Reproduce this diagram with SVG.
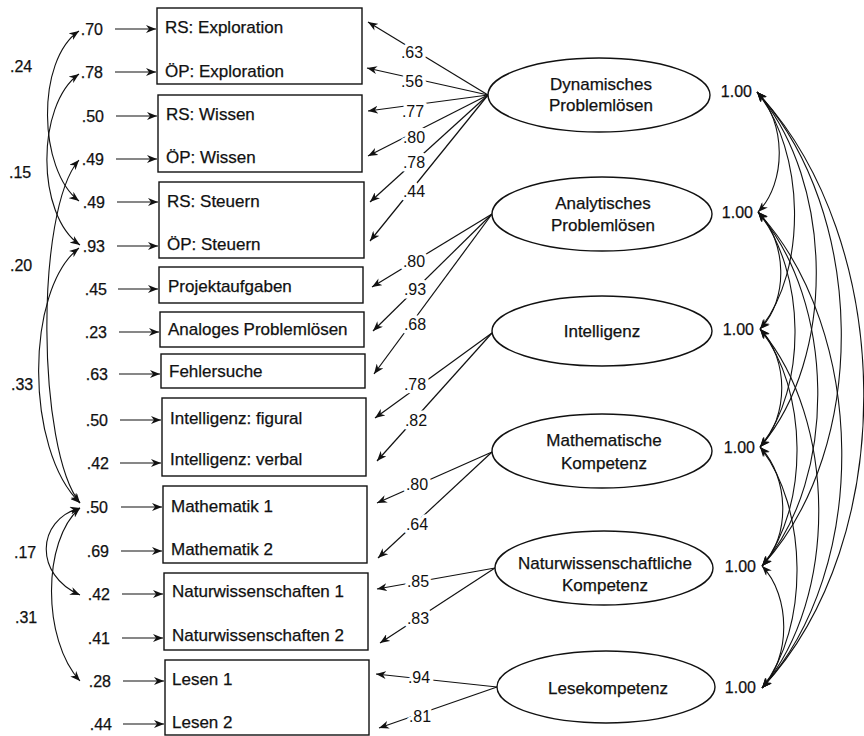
<svg xmlns="http://www.w3.org/2000/svg" width="864" height="736" viewBox="0 0 864 736">
<defs>
<marker id="ah" viewBox="0 0 10 8" refX="10" refY="4" markerWidth="10" markerHeight="8" markerUnits="userSpaceOnUse" orient="auto-start-reverse"><path d="M0,0 L10,4 L0,8 L3,4 z" fill="#111"/></marker>
</defs>
<style>
.box{fill:#fff;stroke:#111;stroke-width:1.4}
.lat{fill:#fff;stroke:#111;stroke-width:1.4}
.con{fill:none;stroke:#111;stroke-width:1.2;marker-end:url(#ah)}
.cov{fill:none;stroke:#111;stroke-width:1.1;marker-start:url(#ah);marker-end:url(#ah)}
.t{font-family:"Liberation Sans",Arial,sans-serif;font-size:17px;fill:#111;stroke:#111;stroke-width:0.25}
.n{font-family:"Liberation Sans",Arial,sans-serif;font-size:16px;fill:#111;stroke:#111;stroke-width:0.25}
.lt{font-family:"Liberation Sans",Arial,sans-serif;font-size:17px;fill:#111;text-anchor:middle;stroke:#111;stroke-width:0.25}
.ld{font-family:"Liberation Sans",Arial,sans-serif;font-size:16px;fill:#111;text-anchor:middle;stroke:#fff;stroke-width:7;paint-order:stroke;stroke-linejoin:round}
.e{text-anchor:end}
</style>
<rect width="864" height="736" fill="#fff"/>

<g id="connectors">
<line class="con" x1="115" y1="29" x2="156" y2="29"/>
<line class="con" x1="115" y1="72" x2="156" y2="72"/>
<line class="con" x1="116" y1="116" x2="157" y2="116"/>
<line class="con" x1="116" y1="159" x2="157" y2="159"/>
<line class="con" x1="117" y1="202" x2="158" y2="202"/>
<line class="con" x1="117" y1="246" x2="158" y2="246"/>
<line class="con" x1="118" y1="289" x2="158" y2="289"/>
<line class="con" x1="119" y1="332" x2="159" y2="332"/>
<line class="con" x1="119" y1="374" x2="160" y2="374"/>
<line class="con" x1="120" y1="420" x2="161" y2="420"/>
<line class="con" x1="120" y1="463" x2="161" y2="463"/>
<line class="con" x1="121" y1="507" x2="162" y2="507"/>
<line class="con" x1="121" y1="551" x2="162" y2="551"/>
<line class="con" x1="122" y1="594" x2="163" y2="594"/>
<line class="con" x1="122" y1="638" x2="163" y2="638"/>
<line class="con" x1="123" y1="681" x2="164" y2="681"/>
<line class="con" x1="123" y1="724" x2="164" y2="724"/>
<path class="cov" d="M79,31 C36,60 38,170 79,201"/>
<path class="cov" d="M79,74 C36,105 36,215 80,245"/>
<path class="cov" d="M79,160 C35,210 37,450 80,503"/>
<path class="cov" d="M79,248 C25,290 25,450 80,503"/>
<path class="cov" d="M80,508 C36,520 34,575 80,595"/>
<path class="cov" d="M80,508 C42,540 42,640 80,681"/>
<line class="con" x1="488" y1="95" x2="368" y2="22"/>
<line class="con" x1="488" y1="95" x2="367" y2="68"/>
<line class="con" x1="488" y1="95" x2="368" y2="111"/>
<line class="con" x1="488" y1="95" x2="368" y2="156"/>
<line class="con" x1="488" y1="95" x2="370" y2="202"/>
<line class="con" x1="488" y1="95" x2="370" y2="241"/>
<line class="con" x1="492" y1="214" x2="372" y2="287"/>
<line class="con" x1="492" y1="214" x2="373" y2="331"/>
<line class="con" x1="492" y1="214" x2="374" y2="374"/>
<line class="con" x1="492" y1="333" x2="375" y2="418"/>
<line class="con" x1="492" y1="333" x2="377" y2="461"/>
<line class="con" x1="492" y1="452" x2="377" y2="503"/>
<line class="con" x1="492" y1="452" x2="378" y2="558"/>
<line class="con" x1="495" y1="568" x2="377" y2="589"/>
<line class="con" x1="495" y1="568" x2="380" y2="643"/>
<line class="con" x1="497" y1="687" x2="376" y2="674"/>
<line class="con" x1="497" y1="687" x2="379" y2="728"/>
<path class="cov" d="M757,92 C786,122 787,182 758,212"/>
<path class="cov" d="M757,92 C805,151 808,270 760,329"/>
<path class="cov" d="M757,92 C834,181 837,358 760,447"/>
<path class="cov" d="M757,92 C866,211 871,447 762,566"/>
<path class="cov" d="M757,92 C896,241 901,539 762,688"/>
<path class="cov" d="M758,212 C787,241 789,300 760,329"/>
<path class="cov" d="M758,212 C806,271 808,388 760,447"/>
<path class="cov" d="M758,212 C835,301 839,477 762,566"/>
<path class="cov" d="M758,212 C867,331 871,569 762,688"/>
<path class="cov" d="M760,329 C789,359 789,417 760,447"/>
<path class="cov" d="M760,329 C808,388 810,507 762,566"/>
<path class="cov" d="M760,329 C837,419 839,598 762,688"/>
<path class="cov" d="M760,447 C789,477 791,536 762,566"/>
<path class="cov" d="M760,447 C808,507 810,628 762,688"/>
<path class="cov" d="M762,566 C791,596 791,658 762,688"/>
</g>

<g id="loading-labels">
<text class="ld" x="412" y="58">.63</text>
<text class="ld" x="412" y="87">.56</text>
<text class="ld" x="413" y="117">.77</text>
<text class="ld" x="414" y="143">.80</text>
<text class="ld" x="414" y="168">.78</text>
<text class="ld" x="414" y="197">.44</text>
<text class="ld" x="414" y="267">.80</text>
<text class="ld" x="415" y="295">.93</text>
<text class="ld" x="415" y="330">.68</text>
<text class="ld" x="415" y="390">.78</text>
<text class="ld" x="416" y="426">.82</text>
<text class="ld" x="417" y="490">.80</text>
<text class="ld" x="417" y="530">.64</text>
<text class="ld" x="418" y="587">.85</text>
<text class="ld" x="418" y="624">.83</text>
<text class="ld" x="419" y="683">.94</text>
<text class="ld" x="420" y="722">.81</text>
</g>

<g id="cov-labels">
<text class="n" x="10" y="72">.24</text>
<text class="n" x="9" y="178">.15</text>
<text class="n" x="10" y="271">.20</text>
<text class="n" x="11" y="390">.33</text>
<text class="n" x="14" y="558">.17</text>
<text class="n" x="15" y="623">.31</text>
</g>

<g id="error-labels">
<text class="n e" x="103" y="35">.70</text>
<text class="n e" x="103" y="78">.78</text>
<text class="n e" x="104" y="122">.50</text>
<text class="n e" x="104" y="165">.49</text>
<text class="n e" x="105" y="208">.49</text>
<text class="n e" x="105" y="252">.93</text>
<text class="n e" x="107" y="295">.45</text>
<text class="n e" x="107" y="338">.23</text>
<text class="n e" x="108" y="380">.63</text>
<text class="n e" x="108" y="426">.50</text>
<text class="n e" x="109" y="469">.42</text>
<text class="n e" x="108" y="513">.50</text>
<text class="n e" x="109" y="557">.69</text>
<text class="n e" x="110" y="600">.42</text>
<text class="n e" x="110" y="644">.41</text>
<text class="n e" x="111" y="687">.28</text>
<text class="n e" x="112" y="730">.44</text>
</g>

<g id="box-exploration">
<rect class="box" x="157" y="8" width="205" height="76"/>
<text class="t" x="165" y="33">RS: Exploration</text>
<text class="t" x="165" y="77">ÖP: Exploration</text>
</g>
<g id="box-wissen">
<rect class="box" x="158" y="95" width="204" height="77"/>
<text class="t" x="166" y="120">RS: Wissen</text>
<text class="t" x="166" y="163">ÖP: Wissen</text>
</g>
<g id="box-steuern">
<rect class="box" x="159" y="182" width="205" height="76"/>
<text class="t" x="167" y="207">RS: Steuern</text>
<text class="t" x="167" y="250">ÖP: Steuern</text>
</g>
<g id="box-projekt">
<rect class="box" x="159" y="267" width="204" height="36"/>
<text class="t" x="168" y="292">Projektaufgaben</text>
</g>
<g id="box-analoges">
<rect class="box" x="160" y="312" width="204" height="35"/>
<text class="t" x="168" y="335">Analoges Problemlösen</text>
</g>
<g id="box-fehler">
<rect class="box" x="161" y="354" width="204" height="34"/>
<text class="t" x="169" y="377">Fehlersuche</text>
</g>
<g id="box-intelligenz">
<rect class="box" x="162" y="398" width="204" height="78"/>
<text class="t" x="170" y="424">Intelligenz: figural</text>
<text class="t" x="170" y="465">Intelligenz: verbal</text>
</g>
<g id="box-mathematik">
<rect class="box" x="163" y="486" width="204" height="77"/>
<text class="t" x="171" y="512">Mathematik 1</text>
<text class="t" x="171" y="555">Mathematik 2</text>
</g>
<g id="box-natur">
<rect class="box" x="164" y="573" width="204" height="77"/>
<text class="t" x="172" y="597">Naturwissenschaften 1</text>
<text class="t" x="172" y="641">Naturwissenschaften 2</text>
</g>
<g id="box-lesen">
<rect class="box" x="165" y="660" width="204" height="75"/>
<text class="t" x="172" y="685">Lesen 1</text>
<text class="t" x="172" y="728">Lesen 2</text>
</g>

<g id="lat-dyn">
<ellipse class="lat" cx="599" cy="95" rx="111" ry="37"/>
<text class="lt" x="601" y="90">Dynamisches</text>
<text class="lt" x="601" y="111">Problemlösen</text>
</g>
<g id="lat-ana">
<ellipse class="lat" cx="602" cy="214" rx="110" ry="37"/>
<text class="lt" x="603" y="209">Analytisches</text>
<text class="lt" x="603" y="231">Problemlösen</text>
</g>
<g id="lat-int">
<ellipse class="lat" cx="602" cy="331" rx="110" ry="35"/>
<text class="lt" x="602" y="337">Intelligenz</text>
</g>
<g id="lat-mat">
<ellipse class="lat" cx="602" cy="451" rx="110" ry="37"/>
<text class="lt" x="604" y="446">Mathematische</text>
<text class="lt" x="604" y="469">Kompetenz</text>
</g>
<g id="lat-nat">
<ellipse class="lat" cx="604" cy="568" rx="109" ry="37"/>
<text class="lt" x="605" y="569">Naturwissenschaftliche</text>
<text class="lt" x="605" y="591">Kompetenz</text>
</g>
<g id="lat-les">
<ellipse class="lat" cx="606" cy="687" rx="109" ry="36"/>
<text class="lt" x="608" y="694">Lesekompetenz</text>
</g>

<g id="variances">
<text class="n e" x="752" y="97">1.00</text>
<text class="n e" x="753" y="218">1.00</text>
<text class="n e" x="754" y="335">1.00</text>
<text class="n e" x="755" y="453">1.00</text>
<text class="n e" x="756" y="572">1.00</text>
<text class="n e" x="756" y="693">1.00</text>
</g>
</svg>
